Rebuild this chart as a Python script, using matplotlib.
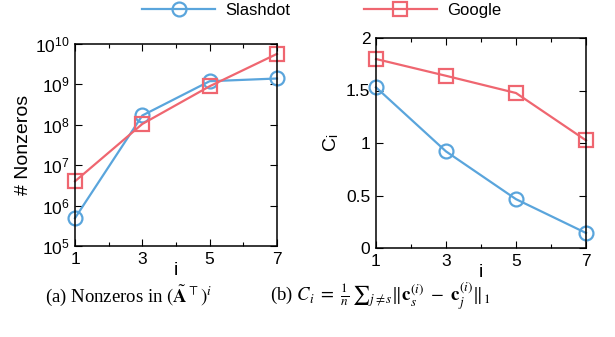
import numpy as np
import matplotlib
matplotlib.use('Agg')
from matplotlib import pyplot as plt
from matplotlib.ticker import LogLocator, FixedLocator, NullFormatter

plt.rcParams['font.family'] = ['Liberation Sans', 'DejaVu Sans']
plt.rcParams['mathtext.fontset'] = 'stix'

# data
steps = [1, 3, 5, 7]
nnz_slashdot = [4.9e5, 1.7e8, 1.2e9, 1.4e9]
nnz_google = [4.0e6, 1.05e8, 9.0e8, 5.7e9]
ci_slashdot = [1.53, 0.92, 0.465, 0.143]
ci_google = [1.80, 1.64, 1.476, 1.025]
decades = [1e5, 1e6, 1e7, 1e8, 1e9, 1e10]
decade_labels = ['$\\mathregular{10^{%d}}$' % e for e in range(5, 11)]
ci_ticks = [0, 0.5, 1, 1.5, 2]
ci_labels = ['0', '0.5', '1', '1.5', '2']

blue = '#5aa5dc'
red = '#ef6670'

fig = plt.figure(figsize=(6.15, 3.37), dpi=100)
ax1 = fig.add_axes([75 / 615, 1 - 246 / 337, 202 / 615, 202 / 337])
ax2 = fig.add_axes([376 / 615, 1 - 248 / 337, 210 / 615, 210 / 337])

style = dict(lw=1.6, markersize=10, markeredgewidth=1.6, markerfacecolor='none', clip_on=False)

ax1.plot(steps, nnz_slashdot, color=blue, marker='o', label='Slashdot', **style)
ax1.plot(steps, nnz_google, color=red, marker='s', label='Google', **style)
ax1.set_yscale('log')
ax1.set_ylim(1e5, 1e10)
ax1.yaxis.set_major_locator(FixedLocator(decades))
ax1.set_yticklabels(decade_labels)
ax1.yaxis.set_minor_locator(LogLocator(base=10, subs=(3.0, 5.5)))
ax1.yaxis.set_minor_formatter(NullFormatter())
ax1.set_ylabel('# Nonzeros', fontsize=14, labelpad=2)

ax2.plot(steps, ci_slashdot, color=blue, marker='o', **style)
ax2.plot(steps, ci_google, color=red, marker='s', **style)
ax2.set_ylim(0, 2)
ax2.set_yticks(ci_ticks)
ax2.set_yticklabels(ci_labels)
ax2.set_ylabel('C$_\\mathregular{i}$', fontsize=14, labelpad=4)

for ax in (ax1, ax2):
    ax.set_xlim(1, 7)
    ax.set_xticks(steps)
    ax.set_xticks([2, 4, 6], minor=True)
    ax.set_xlabel('i', fontsize=14, labelpad=-3)
    ax.tick_params(which='both', direction='in', top=True, right=True,
                   labelsize=12.5, pad=4)
    ax.tick_params(which='major', length=5, width=0.8)
    ax.tick_params(which='minor', length=3, width=0.8)
    for sp in ax.spines.values():
        sp.set_linewidth(1.1)

fig.legend(handles=ax1.get_lines(), loc='upper center', bbox_to_anchor=(0.523, 1.035),
           ncol=2, frameon=False, fontsize=12, handlelength=4.4,
           handletextpad=0.6, columnspacing=4.4)

fig.text(45 / 615, 1 - 296 / 337, '(a) Nonzeros in $(\\tilde{\\mathbf{A}}^{\\top})^{i}$',
         family='Liberation Serif', fontsize=13.5, va='center')
fig.text(270 / 615, 1 - 296 / 337,
         '(b) $C_i\\ =\\ \\frac{1}{n}\\,{\\sum}_{j\\neq s}\\Vert\\mathbf{c}_s^{(i)}\\ -\\ \\mathbf{c}_j^{(i)}\\Vert_1$',
         family='Liberation Serif', fontsize=13.5, va='center')

plt.savefig('out.png', dpi=100)
